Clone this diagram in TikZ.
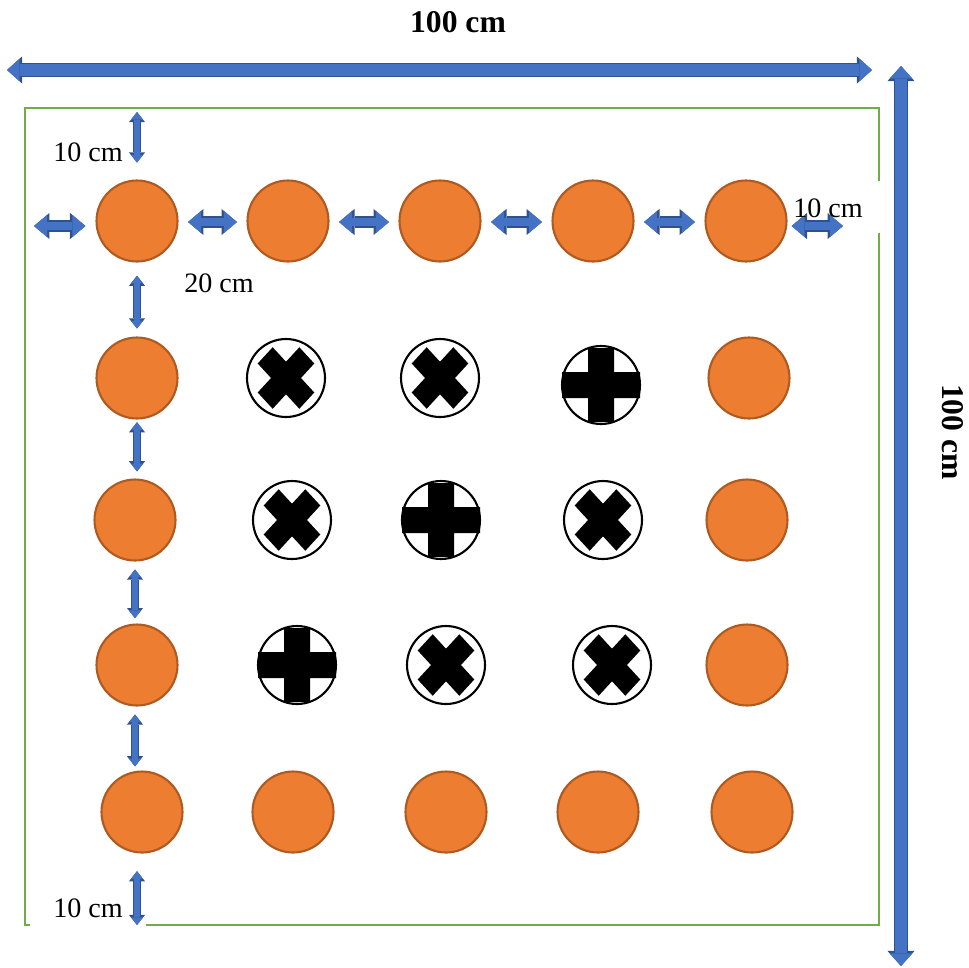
\documentclass[tikz,border=0pt]{standalone}
\usepackage{fontspec}
\setmainfont{Liberation Serif}
\usetikzlibrary{arrows.meta}
\definecolor{orfill}{HTML}{ED7D31}
\definecolor{ordark}{HTML}{AE5A21}
\definecolor{bfill}{HTML}{4472C4}
\definecolor{bdark}{HTML}{2F528F}
\definecolor{grn}{HTML}{70AD47}
\tikzset{
  orc/.style={circle, draw=ordark, fill=orfill, line width=1.2pt, minimum size=1.62cm, inner sep=0pt},
  mkc/.style={circle, draw=black, fill=white, line width=1.2pt, minimum size=1.56cm, inner sep=0pt},
  border/.style={draw=grn, line width=1.4pt},
  lbl/.style={font=\fontsize{16}{19}\selectfont, inner sep=0pt},
  ttl/.style={font=\fontsize{18}{22}\selectfont\bfseries, inner sep=0pt},
  blockarrow/.style n args={3}{draw=bfill, line width=#1,
    arrows={Triangle[width=#2,length=#3,line width=0pt]-Triangle[width=#2,length=#3,line width=0pt]},
    preaction={draw=bdark, line width=#1+1.4pt,
      arrows={Triangle[width=#2+2.4pt,length=#3+1.4pt,line width=0pt]-Triangle[width=#2+2.4pt,length=#3+1.4pt,line width=0pt]}}},
  bigdim/.style={blockarrow={6.4pt}{13pt}{7.2pt}},
  hdim/.style={blockarrow={5pt}{12.5pt}{7.4pt}},
  vdim/.style={blockarrow={3.2pt}{6.8pt}{4.4pt}}
}
\begin{document}
\begin{tikzpicture}[x=0.02cm, y=-0.02cm]
\useasboundingbox (0,0) rectangle (969,967);
% frame
\draw[border] (30,925) -| (25,108) -| (879,181);
\draw[border] (879,233) |- (146,925);
% outer dimensions
\coordinate (wl) at (7,70); \coordinate (wr) at (872,70);
\coordinate (ht) at (901,66); \coordinate (hb) at (901,966);
\draw[bigdim] (wl) -- (wr);
\draw[bigdim] (ht) -- (hb);
\node[ttl] (wlbl) at (458,22) {100 cm};
\node[ttl, rotate=-90] (hlbl) at (953,432) {100 cm};
% border plants
\foreach \n/\x/\y in {11/137/221, 12/288/221, 13/440/221, 14/593/221, 15/746/221,
                      21/137/378, 25/749/378, 31/135/520, 35/747/520,
                      41/137/665, 45/747/665,
                      51/142/812, 52/293/812, 53/446/812, 54/598/812, 55/752/812}
  \node[orc] (p\n) at (\x,\y) {};
% inner plants
\foreach \n/\x/\y in {22/286/378, 23/440/378, 24/601/385,
                      32/292/520, 33/441/520, 34/603/520,
                      42/297/665, 43/446/665, 44/612/665}
  \node[mkc] (p\n) at (\x,\y) {};
\foreach \n in {22,23,32,34,43,44}
  \fill[shift={(p\n.center)}, xscale=0.92, rotate=45] (-32,-11.5) rectangle (32,11.5)
        (-11.5,-32) rectangle (11.5,32);
\foreach \n in {24,33,42}
  \fill[shift={(p\n.center)}] (-39,-13) rectangle (39,13) (-13,-37) rectangle (13,37);
% spacing
\coordinate (tt) at (137,112); \coordinate (lft) at (34,226);
\coordinate (rgt) at (843,226); \coordinate (bb) at (137,925);
\draw[vdim, shorten >=9.6pt] (tt) -- (p11.north);
\draw[hdim, shorten >=5.7pt] (lft) -- (lft -| p11.west);
\foreach \a/\b in {11/12, 12/13, 13/14, 14/15}
  \draw[hdim, shorten <=5.4pt, shorten >=5.4pt] ([yshift=-0.02cm]p\a.east) -- ([yshift=-0.02cm]p\b.west);
\draw[hdim, shorten <=2.3pt] (rgt -| p15.east) -- (rgt);
\draw[vdim, shorten <=7.5pt, shorten >=4.5pt] (p11.south) -- (p21.north);
\draw[vdim, shorten <=1.5pt, shorten >=4pt] (p21.south) -- (p21.south |- p31.north);
\draw[vdim, shorten <=4.5pt, shorten >=3pt] (p31.south) -- (p41.north -| p31.south);
\draw[vdim, shorten <=4.5pt, shorten >=2.3pt] ([xshift=-0.04cm]p41.south) -- ([xshift=-0.04cm]p41.south |- p51.north);
\draw[vdim, shorten <=10pt] (p51.south -| bb) -- (bb);
% labels
\node[lbl] (l1) at (88,152) {10 cm};
\node[lbl] (l2) at (219,283) {20 cm};
\node[lbl] (l3) at (828,208) {10 cm};
\node[lbl] (l4) at (88,908) {10 cm};
\end{tikzpicture}
\end{document}
